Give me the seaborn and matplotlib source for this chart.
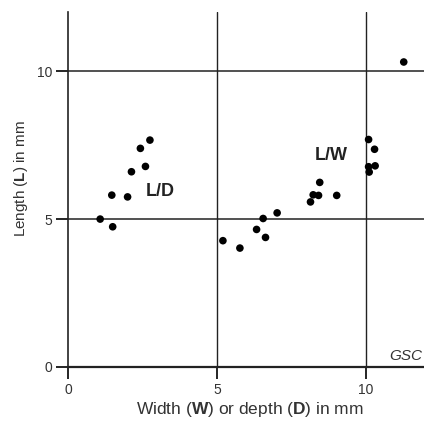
import numpy as np
import pandas as pd
import matplotlib
matplotlib.use("Agg")
import matplotlib.pyplot as plt
import seaborn as sns

# L/D : length vs depth
ld_x = [1.08, 1.50, 1.47, 2.00, 2.13, 2.60, 2.43, 2.75]
ld_y = [5.00, 4.74, 5.81, 5.75, 6.60, 6.78, 7.39, 7.67]

# L/W : length vs width
lw_x = [5.20, 5.77, 6.33, 6.63, 6.55, 7.02, 8.14, 8.23, 8.41, 8.45, 9.02,
        10.09, 10.29, 10.09, 10.31, 10.11, 11.27]
lw_y = [4.27, 4.02, 4.65, 4.38, 5.02, 5.21, 5.58, 5.82, 5.80, 6.24, 5.80,
        7.69, 7.36, 6.77, 6.80, 6.59, 10.31]

ticks = [0, 5, 10]

df = pd.DataFrame({
    "size": ld_x + lw_x,
    "length": ld_y + lw_y,
    "ratio": ["L/D"] * len(ld_x) + ["L/W"] * len(lw_x),
})

sns.set_style("ticks")
plt.rcParams["font.family"] = ["Liberation Sans", "DejaVu Sans"]
plt.rcParams["mathtext.fontset"] = "custom"
plt.rcParams["mathtext.rm"] = "Liberation Sans"
plt.rcParams["mathtext.bf"] = "Liberation Sans:bold"

fig = plt.figure(figsize=(4.24, 4.22), dpi=100)
ax = fig.add_axes([68 / 424, 55 / 422, 356 / 424, 355 / 422])

sns.scatterplot(data=df, x="size", y="length", color="black", s=30,
                edgecolor="none", legend=False, ax=ax, zorder=3)

ax.set_xlim(0, 11.95)
ax.set_ylim(0, 12)
ax.set_xticks(ticks)
ax.set_yticks(ticks)
sns.despine(ax=ax)

for v in ticks[1:]:
    ax.axvline(v, color="#222222", lw=1.0, zorder=1)
    ax.axhline(v, color="#222222", lw=1.1, zorder=1)

ax.spines["left"].set_linewidth(1.2)
ax.spines["bottom"].set_linewidth(1.6)
ax.spines["left"].set_color("#222222")
ax.spines["bottom"].set_color("#222222")

ax.tick_params(axis="both", which="major", bottom=True, left=True,
               direction="out", length=8.5, width=1.2, color="black",
               labelsize=10, pad=3, labelcolor="#333333")

ax.text(3.09, 5.92, "L/D", fontsize=13, fontweight="bold", color="#222222",
        ha="center", va="center")
ax.text(8.85, 7.14, "L/W", fontsize=13, fontweight="bold", color="#222222",
        ha="center", va="center")
ax.text(10.8, 0.38, "GSC", fontsize=11, style="italic", color="#333333",
        ha="left", va="center", clip_on=False)

ax.set_xlabel(r"Width ($\mathbf{W}$) or depth ($\mathbf{D}$) in mm",
              fontsize=12.5, color="#333333")
ax.set_ylabel(r"Length ($\mathbf{L}$) in mm", fontsize=11, color="#333333")
ax.xaxis.set_label_coords(0.511, -0.121)
ax.yaxis.set_label_coords(-0.132, 0.53)
ax.xaxis.label.set_va("center")
ax.yaxis.label.set_va("center")

fig.savefig("out.png", dpi=100)
